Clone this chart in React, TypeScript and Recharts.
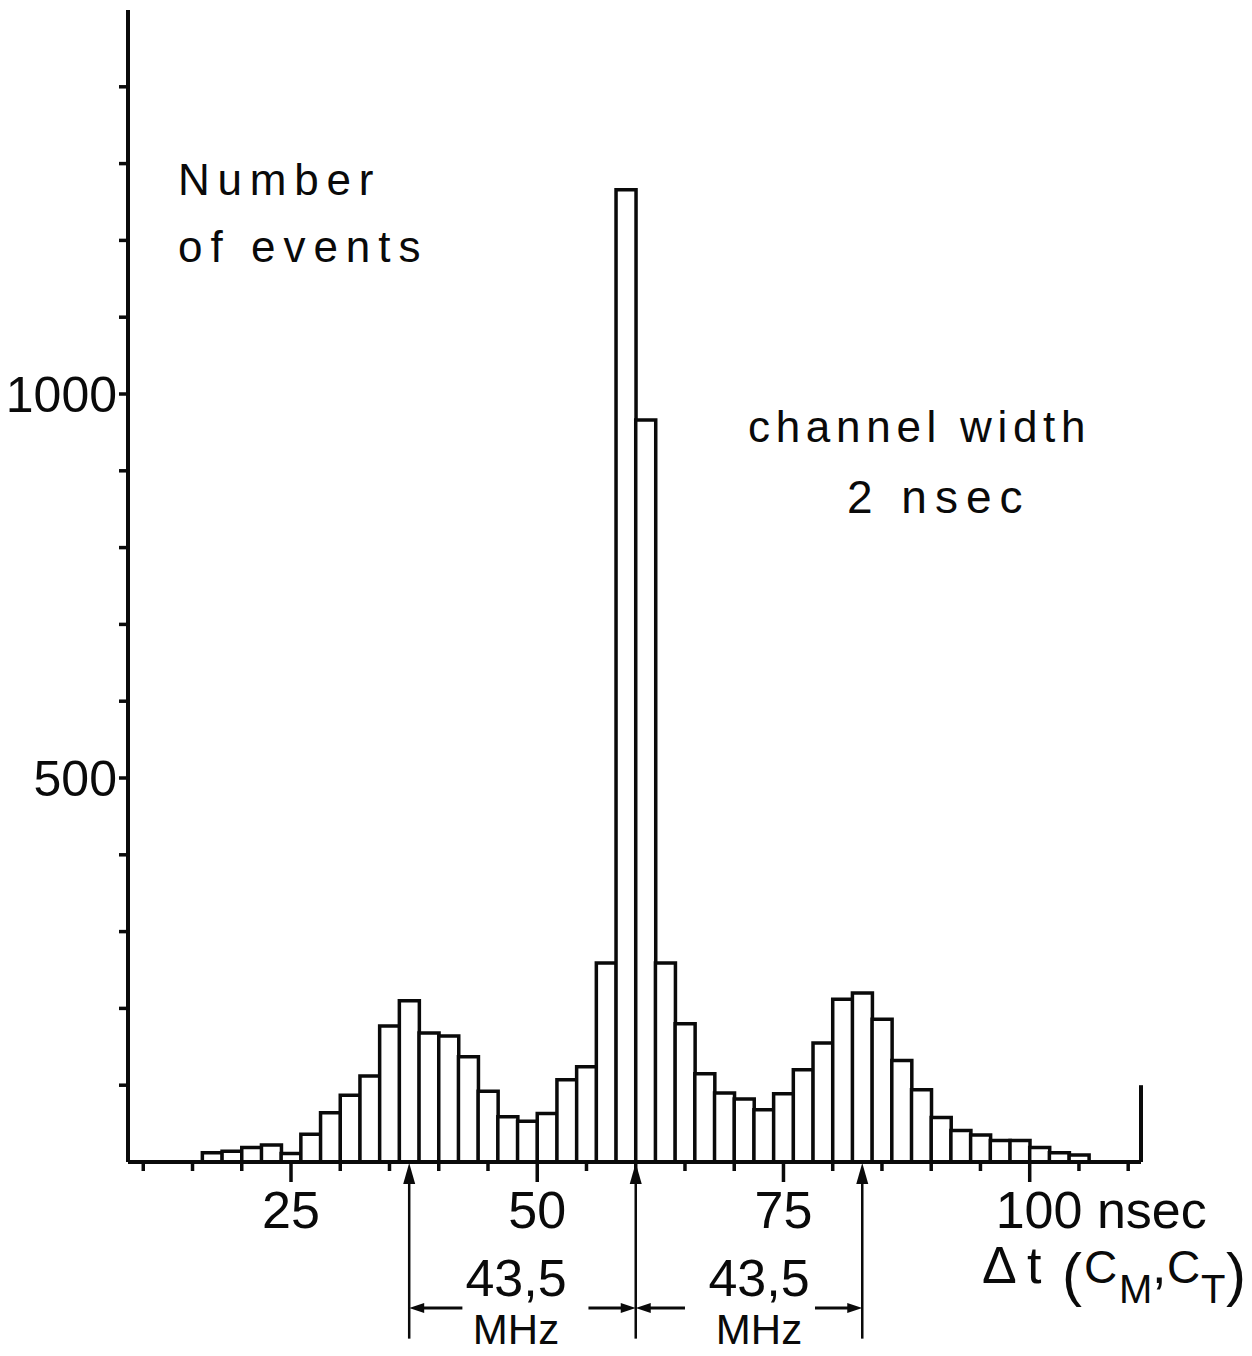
import React from 'react';
import { ComposedChart, Bar, XAxis, YAxis, ReferenceLine } from 'recharts';

// channel centres in nsec (2 nsec wide channels)
const channels = [
  17, 19, 21, 23, 25, 27, 29, 31, 33, 35, 37, 39, 41, 43, 45,
  47, 49, 51, 53, 55, 57, 59, 61, 63, 65, 67, 69, 71, 73, 75,
  77, 79, 81, 83, 85, 87, 89, 91, 93, 95, 97, 99, 101, 103, 105,
];
const counts = [
  12, 14, 19, 22, 11, 36, 64, 87, 112, 177, 210, 168, 164, 137, 92,
  59, 53, 63, 107, 124, 259, 1266, 966, 259, 180, 115, 90, 82, 68, 89,
  120, 155, 212, 220, 186, 132, 94, 58, 41, 35, 28, 28, 19, 12, 9,
];

const xTicks = [10, 15, 20, 25, 30, 35, 40, 45, 50, 55, 60, 65, 70, 75, 80, 85, 90, 95, 100, 105, 110];
const xLabels = [25, 50, 75, 100];
const yTicks = [100, 200, 300, 400, 500, 600, 700, 800, 900, 1000, 1100, 1200, 1300, 1400];
const yLabels = [500, 1000];

// 43,5 MHz markers (nsec) and the dimension arrows between them [tail, head]
const markers = [37, 60, 83];
const arrowSpans = [
  [42.4, 37],
  [55.2, 60],
  [65, 60],
  [78.2, 83],
];

const X_MIN = 8.45;
const X_MAX = 111.3;
const Y_MAX = 1500;
const INK = '#0a0a0a';
const FONT = '"Liberation Sans", Arial, sans-serif';

const data = channels.map((t, i) => ({ t, n: counts[i] }));

const XTick = (props: any) => {
  const { x, y, payload } = props;
  const v = payload.value;
  const major = xLabels.includes(v);
  return (
    <g>
      <line x1={x} x2={x} y1={y} y2={y + (major ? 20 : 9)} stroke={INK} strokeWidth={3.5} />
      {major && (
        <text
          x={v === 100 ? x - 34 : x}
          y={y + 66}
          textAnchor={v === 100 ? 'start' : 'middle'}
          fontSize={52}
          fontFamily={FONT}
          fill={INK}
        >
          {v === 100 ? '100 nsec' : v}
        </text>
      )}
    </g>
  );
};

// vertical marker line with an upward arrowhead touching the axis
const markerShape = (p: any) => {
  const { x1, y1, x2, y2 } = p;
  return (
    <g>
      <line x1={x1} y1={y1 + 10} x2={x2} y2={y2} stroke={INK} strokeWidth={2.5} />
      <polygon points={`${x1},${y1 + 1} ${x1 - 6},${y1 + 22} ${x1 + 6},${y1 + 22}`} fill={INK} />
    </g>
  );
};

// horizontal arrow, head at the second point
const arrowShape = (p: any) => {
  const { x1, y1, x2, y2 } = p;
  const d = x2 > x1 ? 1 : -1;
  return (
    <g>
      <line x1={x1} y1={y1} x2={x2 - d * 8} y2={y2} stroke={INK} strokeWidth={3} />
      <polygon points={`${x2},${y2} ${x2 - d * 15},${y2 - 5} ${x2 - d * 15},${y2 + 5}`} fill={INK} />
    </g>
  );
};

export default function App() {
  return (
    <div style={{ position: 'absolute', left: 0, top: 0, width: 1252, height: 1356, background: '#fff' }}>
      <ComposedChart
        width={1252}
        height={1356}
        data={data}
        margin={{ top: 10, right: 111, bottom: 134, left: 0 }}
        barCategoryGap={0}
        barGap={0}
      >
        <XAxis
          dataKey="t"
          type="number"
          domain={[X_MIN, X_MAX]}
          allowDataOverflow
          ticks={xTicks}
          interval={0}
          height={60}
          tickSize={0}
          tickMargin={0}
          tickLine={false}
          tick={<XTick />}
          axisLine={{ stroke: INK, strokeWidth: 4 }}
        />
        <YAxis
          type="number"
          domain={[0, Y_MAX]}
          allowDataOverflow
          ticks={yTicks}
          interval={0}
          width={128}
          tickSize={9}
          tickMargin={2}
          tickLine={{ stroke: INK, strokeWidth: 3.5 }}
          axisLine={{ stroke: INK, strokeWidth: 4 }}
          tick={{ fontSize: 50, fill: INK, fontFamily: FONT }}
          tickFormatter={(v: number) => (yLabels.includes(v) ? String(v) : '')}
        />
        <Bar dataKey="n" fill="#fff" stroke={INK} strokeWidth={3.5} isAnimationActive={false} />
        <ReferenceLine
          segment={[{ x: X_MAX, y: 0 }, { x: X_MAX, y: 100 }]}
          ifOverflow="visible"
          stroke={INK}
          strokeWidth={4}
        />
        {markers.map((m) => (
          <ReferenceLine
            key={'m' + m}
            segment={[{ x: m, y: 0 }, { x: m, y: -230 }]}
            ifOverflow="visible"
            shape={markerShape}
          />
        ))}
        {arrowSpans.map(([a, b], i) => (
          <ReferenceLine
            key={'a' + i}
            segment={[{ x: a, y: -190 }, { x: b, y: -190 }]}
            ifOverflow="visible"
            shape={arrowShape}
          />
        ))}
      </ComposedChart>
      <svg
        width={1252}
        height={1356}
        style={{ position: 'absolute', left: 0, top: 0, pointerEvents: 'none' }}
        fontFamily={FONT}
        fill={INK}
      >
        <text x={178} y={195} fontSize={44} letterSpacing={7.8}>Number</text>
        <text x={178} y={262} fontSize={44} letterSpacing={8}>of events</text>
        <text x={748} y={442} fontSize={44} letterSpacing={5.7}>channel width</text>
        <text x={847} y={513} fontSize={46} letterSpacing={8}>2 nsec</text>
        <text x={516} y={1296} fontSize={52} textAnchor="middle">43,5</text>
        <text x={516} y={1344} fontSize={42} textAnchor="middle">MHz</text>
        <text x={759} y={1296} fontSize={52} textAnchor="middle">43,5</text>
        <text x={759} y={1344} fontSize={42} textAnchor="middle">MHz</text>
        <text y={1283} fontSize={52}>
          <tspan x={982}>Δ</tspan>
          <tspan x={1027}>t</tspan>
          <tspan x={1062} y={1295} fontSize={60}>(</tspan>
          <tspan x={1084} y={1283} fontSize={46}>C</tspan>
          <tspan x={1119} y={1303} fontSize={40}>M</tspan>
          <tspan x={1152} y={1283}>,</tspan>
          <tspan x={1167} y={1283} fontSize={46}>C</tspan>
          <tspan x={1201} y={1303} fontSize={40}>T</tspan>
          <tspan x={1226} y={1295} fontSize={60}>)</tspan>
        </text>
      </svg>
    </div>
  );
}
